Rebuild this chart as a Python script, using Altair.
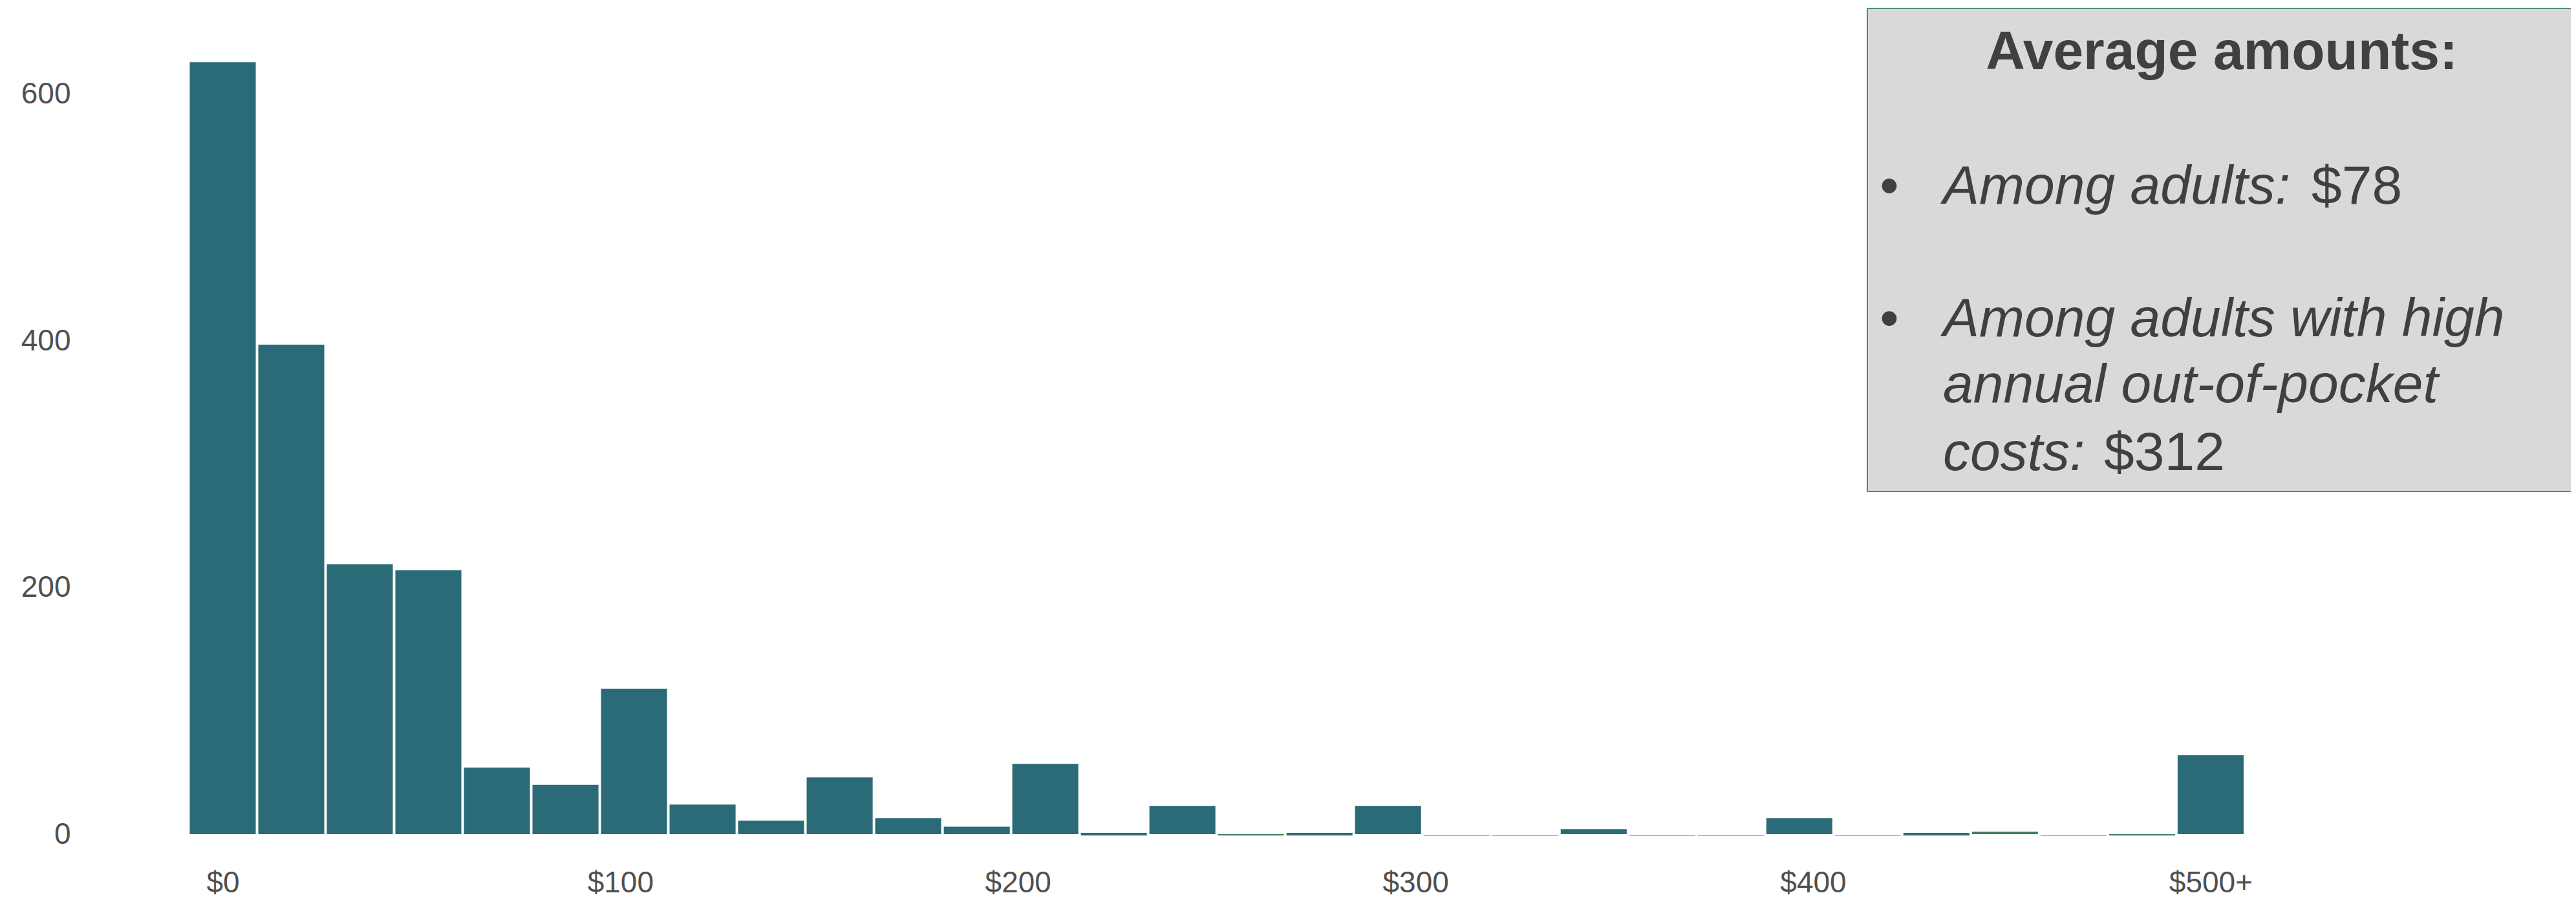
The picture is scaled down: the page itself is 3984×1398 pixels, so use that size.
import altair as alt
import pandas as pd

# ---- data ----
bin_centers = [0, 17.24, 34.48, 51.72, 68.97, 86.21, 103.45, 120.69, 137.93, 155.17,
               172.41, 189.66, 206.90, 224.14, 241.38, 258.62, 275.86, 293.10, 310.34, 327.59,
               344.83, 362.07, 379.31, 396.55, 413.79, 431.03, 448.28, 465.52, 482.76, 500]
bar_top = [626, 397, 219, 214, 54, 40, 118, 24, 11, 46,
           13, 6, 57, 1, 23, 0, 1, 23, -1, -1,
           4, -1, -1, 13, -1, 1, 2, -1, 0, 64]
bar_bottom = [0, 0, 0, 0, 0, 0, 0, 0, 0, 0,
              0, 0, 0, -1, 0, -1, -1, 0, -1.5, -1.5,
              0, -1.5, -1.5, 0, -1.5, -1, 0, -1.5, -1, 0]
bar_group = ["a", "a", "a", "a", "a", "a", "a", "a", "a", "a",
             "a", "a", "a", "a", "a", "b", "a", "a", "b", "b",
             "a", "b", "b", "a", "b", "a", "b", "b", "b", "a"]
x_tick_values = [0, 100, 200, 300, 400, 500]
y_tick_values = [0, 200, 400, 600]

box_title = "Average amounts:"
line1_italic = "Among adults:"
line1_value = "$78"
line2_italic = ["Among adults with high", "annual out-of-pocket"]
line2_last_italic = "costs:"
line2_value = "$312"

TEAL = "#2B6B77"
GREEN = "#3E7D5A"
TEXT = "#404040"
AXIS_TEXT = "#505050"
FONT = "Liberation Sans"

df = pd.DataFrame({
    "center": bin_centers,
    "top": bar_top,
    "bottom": bar_bottom,
    "group": bar_group,
})

W, H = 3826, 1277

x_scale = alt.Scale(domain=[-31.63, 590.6], nice=False, zero=False)
y_scale = alt.Scale(domain=[0, 669.7], nice=False, zero=False)

bars = alt.Chart(df).transform_calculate(
    x_lo="datum.center - 8.3", x_hi="datum.center + 8.3"
).mark_rect().encode(
    x=alt.X("x_lo:Q", scale=x_scale,
            axis=alt.Axis(values=x_tick_values, title=None, grid=False, domain=False,
                          ticks=False, tickSize=0, labelPadding=53, labelFontSize=46,
                          labelFont=FONT, labelColor=AXIS_TEXT,
                          labelExpr="datum.value == 500 ? '$500+' : '$' + datum.value")),
    x2="x_hi:Q",
    y=alt.Y("bottom:Q", scale=y_scale,
            axis=alt.Axis(values=y_tick_values, title=None, grid=False, domain=False,
                          ticks=False, tickSize=0, labelPadding=41, labelFontSize=46,
                          labelFont=FONT, labelColor=AXIS_TEXT)),
    y2="top:Q",
    color=alt.Color("group:N", scale=alt.Scale(domain=["a", "b"], range=[TEAL, GREEN]), legend=None),
)

one = pd.DataFrame({"k": [0]})

box = alt.Chart(one).mark_rect(fill="#D9D9D9", stroke="#4E8F70", strokeWidth=2).encode(
    x=alt.value(2738), x2=alt.value(3900), y=alt.value(0), y2=alt.value(747)
)

def txt(text, x, y, size=84, italic=False, bold=False, align="left"):
    return alt.Chart(one).mark_text(
        text=text, font=FONT, fontSize=size, color=TEXT, align=align, baseline="alphabetic",
        fontStyle="italic" if italic else "normal",
        fontWeight="bold" if bold else "normal",
    ).encode(x=alt.value(x), y=alt.value(y))

texts = [
    txt(box_title, 3286, 94, bold=True, align="center"),
    txt("\u2022", 2772, 302, align="center"),
    txt(line1_italic, 2855, 302, italic=True),
    txt(line1_value, 3425, 302),
    txt("\u2022", 2772, 507, align="center"),
    txt(line2_italic[0], 2855, 507, italic=True),
    txt(line2_italic[1], 2855, 609, italic=True),
    txt(line2_last_italic, 2855, 714, italic=True),
    txt(line2_value, 3104, 714),
]

chart = alt.layer(bars, box, *texts).properties(
    width=W, height=H,
    autosize=alt.AutoSizeParams(type="none"),
    padding={"left": 142, "top": 5, "right": 0, "bottom": 100},
).configure_view(stroke=None)

chart.save("out.html", embed_options={"renderer": "svg", "actions": False})
